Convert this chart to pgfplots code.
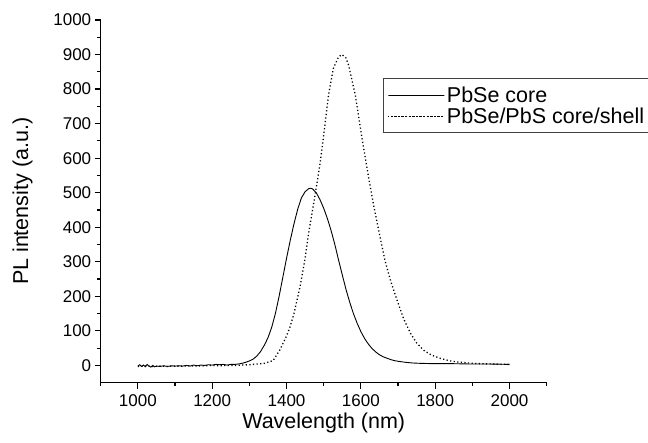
\documentclass[border=0pt]{standalone}
\usepackage{pgfplots}
\pgfplotsset{compat=1.18}
\usepackage{fontspec}
\setmainfont{Liberation Sans}
\begin{document}
\begin{tikzpicture}[x=1pt,y=1pt]
\useasboundingbox (0,0) rectangle (648,443);
\begin{axis}[
  at={(100.7pt,60.3pt)}, anchor=south west,
  scale only axis, width=446pt, height=362.7pt,
  xmin=900, xmax=2100, ymin=-50, ymax=1000,
  axis x line*=bottom, axis y line*=left,
  axis line style={line width=1.4pt, -},
  xtick={1000,1200,...,2000},
  minor xtick={900,1100,...,2100},
  ytick={0,100,...,1000},
  minor ytick={50,150,...,950},
  tick align=outside,
  major tick length=6pt, minor tick length=3.5pt,
  every tick/.style={line width=1.2pt, black},
  tick label style={font=\fontsize{17}{19}\selectfont},
  /pgf/number format/assume math mode=true,
  /pgf/number format/1000 sep={},
  xticklabel style={yshift=-2pt},
  xlabel={Wavelength (nm)},
  ylabel={PL intensity (a.u.)},
  label style={font=\fontsize{21.5}{24}\selectfont},
  xlabel style={yshift=0pt},
  ylabel style={yshift=14pt},
  legend style={at={(rel axis cs:0.633,0.840)}, anchor=north west,
    draw=black!75, line width=1.2pt, font=\fontsize{21.5}{21.6}\selectfont,
    inner xsep=4pt, inner ysep=6pt, row sep=0pt,
    cells={anchor=west}},
  legend image code/.code={\path (0pt,0pt) rectangle (56pt,0pt); \draw[#1, line width=0.8pt] (6pt,0pt) -- (53pt,0pt);},
  clip=false,
]
\addplot[black, line width=0.9pt] coordinates {
(1000,-2)(1005,2)(1010,-3)(1015,1)(1020,-4)(1025,3)(1030,-2)(1035,-5)(1040,0)(1045,-4)
(1050,-2)(1060,-3)(1070,-1)(1080,-3)(1090,-1)(1100,-2)(1110,-1)(1120,-2)(1130,0)(1140,-2)
(1150,1)(1160,-1)(1170,1)(1180,0)(1190,2)(1200,1)(1210,3)(1220,2)(1230,3)(1240,1)
(1250,3)(1260,3)(1270,4)(1280,6)(1290,9)(1300,13)(1310,18)(1320,27)(1330,40)(1340,58)
(1350,80)(1360,110)(1370,150)(1380,200)(1390,255)(1400,310)(1410,362)(1420,410)(1430,452)
(1440,485)(1450,503)(1460,512)(1465,513)(1470,511)(1480,500)(1490,480)(1500,455)(1510,425)
(1520,390)(1530,350)(1540,305)(1550,262)(1560,220)(1570,183)(1580,150)(1590,122)(1600,98)
(1610,78)(1620,62)(1630,49)(1640,39)(1650,31)(1660,25)(1670,21)(1680,17)(1690,14)(1700,12)
(1720,9)(1740,7)(1760,6)(1800,5)(1850,5)(1900,4)(1950,4)(2000,3)
};
\addlegendentry{PbSe core}
\addplot[black, line width=1.3pt, dash pattern=on 1.2pt off 2.4pt] coordinates {
(1000,-3)(1020,-2)(1040,-3)(1060,-2)(1080,-3)(1100,-2)(1120,-2)(1140,-1)(1160,-2)(1180,-1)
(1200,0)(1220,-1)(1240,0)(1260,0)(1280,1)(1300,2)(1320,4)(1340,6)(1364,14)(1382,45)
(1400,85)(1409,110)(1420,150)(1436,226)(1450,310)(1459,380)(1470,450)(1477,495)(1486,555)
(1491,591)(1499,658)(1513,783)(1526,860)(1540,893)(1549,900)(1560,890)(1567,869)(1585,783)
(1603,658)(1621,543)(1635,460)(1650,380)(1665,303)(1680,245)(1698,187)(1715,135)(1734,92)
(1750,65)(1770,43)(1790,30)(1815,20)(1840,13)(1860,10)(1900,6)(1950,4)(2000,3)
};
\addlegendentry{PbSe/PbS core/shell}
\end{axis}
\end{tikzpicture}
\end{document}
